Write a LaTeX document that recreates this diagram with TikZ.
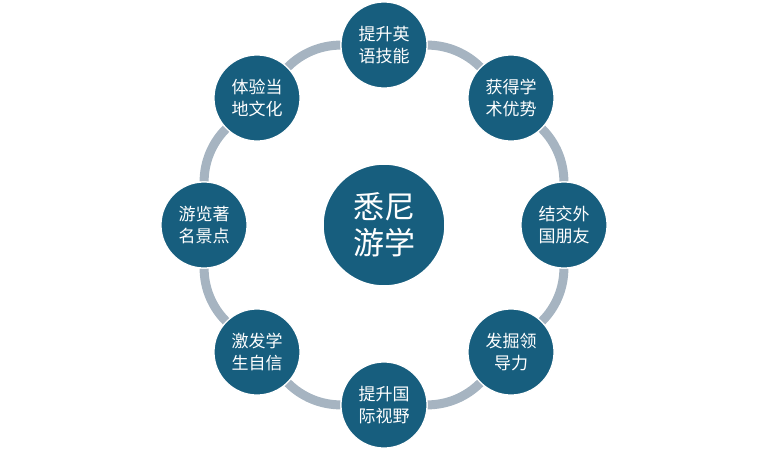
\documentclass[tikz,border=0pt]{standalone}
\usepackage{fontspec}
\newfontfamily\cjk{Noto Sans CJK SC}
\usepackage{tikz}
\usetikzlibrary{positioning,backgrounds}
\usepackage{xcolor}
\definecolor{tealblue}{RGB}{23,94,126}
\definecolor{ringgrey}{RGB}{166,180,193}

\begin{document}
\begin{tikzpicture}[x=1pt,y=-1pt,
		hub/.style={circle,fill=tealblue,draw=white,line width=1.5pt,minimum size=122pt,inner sep=0pt,
			text=white,align=center,font=\cjk\fontsize{31}{36}\selectfont},
		goal/.style={circle,fill=tealblue,draw=white,line width=1.2pt,minimum size=86pt,inner sep=0pt,
			text=white,align=center,font=\cjk\fontsize{17}{22}\selectfont},
		ring/.style={ringgrey,line width=9pt,bend left=22.5,looseness=0.885}]
				\useasboundingbox (0,0) rectangle (768,450);
				\node [hub] (sydney) at (384,225) {悉尼\\游学};
				\node [goal] (english) at (384,45) {提升英\\语技能};
				\node [goal] (academic) at (511,98) {获得学\\术优势};
				\node [goal] (friends) at (564,225) {结交外\\国朋友};
				\node [goal] (leader) at (511,352) {发掘领\\导力};
				\node [goal] (vision) at (384,405) {提升国\\际视野};
				\node [goal] (confidence) at (257,352) {激发学\\生自信};
				\node [goal] (sights) at (204,225) {游览著\\名景点};
				\node [goal] (culture) at (257,98) {体验当\\地文化};
				\begin{scope}[on background layer]
				\draw [ring] (english) to (academic);
				\draw [ring] (academic) to (friends);
				\draw [ring] (friends) to (leader);
				\draw [ring] (leader) to (vision);
				\draw [ring] (vision) to (confidence);
				\draw [ring] (confidence) to (sights);
				\draw [ring] (sights) to (culture);
				\draw [ring] (culture) to (english);
				\end{scope}
			\end{tikzpicture}
\end{document}
